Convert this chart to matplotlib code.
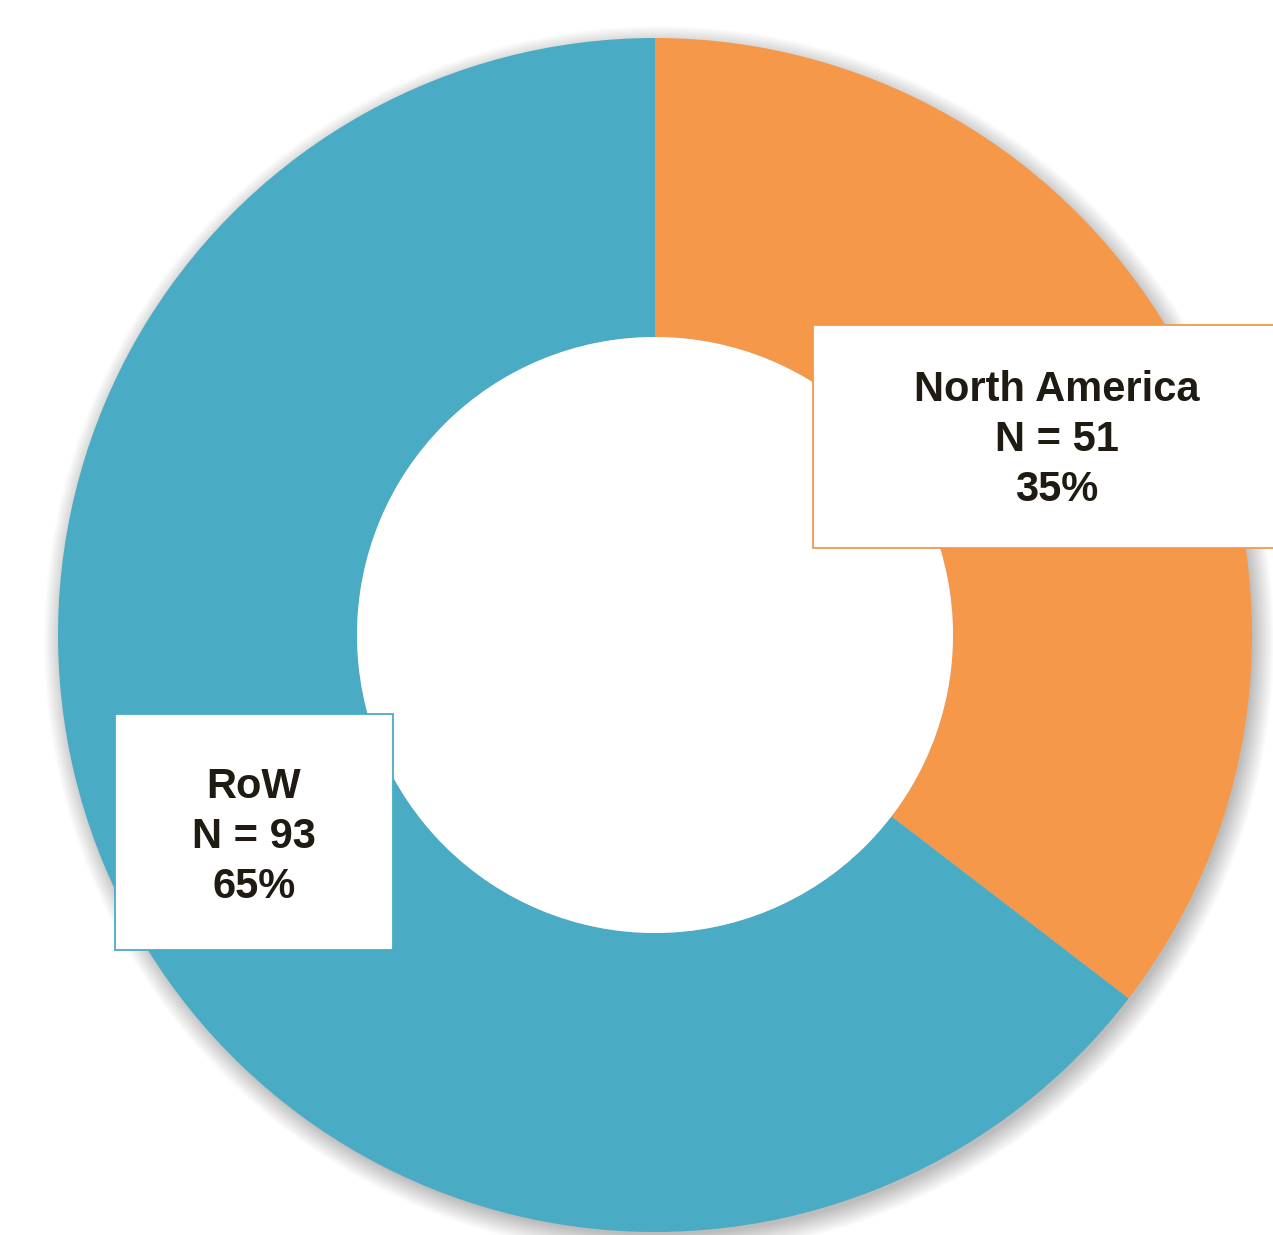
import matplotlib.pyplot as plt
from matplotlib.patches import Circle, Rectangle

# data
regions = ["North America", "RoW"]
counts = [51, 93]
colors = ["#F5984A", "#4AABC5"]

W, H = 1273, 1235
fig = plt.figure(figsize=(W / 100, H / 100), dpi=100)
ax = fig.add_axes([0, 0, 1, 1])
ax.set_xlim(0, W)
ax.set_ylim(0, H)
ax.set_aspect("equal")
ax.axis("off")

cx, cy = 655, H - 635
r_out, r_in = 597, 298

# soft shadow around the ring
for i in range(22):
    ax.add_patch(Circle((cx + 4, cy - 6), r_out + 18 - i, color="black",
                        alpha=0.012, lw=0, zorder=1))

total = sum(counts)
ax.pie(counts, colors=colors, startangle=90, counterclock=False,
       radius=r_out, center=(cx, cy),
       wedgeprops=dict(width=r_out - r_in, linewidth=0, zorder=2))
ax.set_xlim(0, W)
ax.set_ylim(0, H)
ax.add_patch(Circle((cx, cy), r_in, color="white", lw=0, zorder=3))

# label boxes
boxes = [(813, H - 548, 480, 223), (115, H - 950, 278, 236)]
text_xy = [(1057, H - 390), (254, H - 787)]
for i, name in enumerate(regions):
    x, y, w, h = boxes[i]
    ax.add_patch(Rectangle((x, y), w, h, facecolor="white", edgecolor=colors[i],
                           lw=1.3, zorder=5))
    pct = round(counts[i] / total * 100)
    lines = [name, f"N = {counts[i]}", f"{pct}%"]
    tx, ty = text_xy[i]
    for j, s in enumerate(lines):
        ax.text(tx, ty - j * 50, s, ha="center", va="center", fontsize=30,
                fontweight="bold", family="Liberation Sans", color="#1F1B12",
                zorder=6)

fig.savefig("out.png", dpi=100, facecolor="white")
